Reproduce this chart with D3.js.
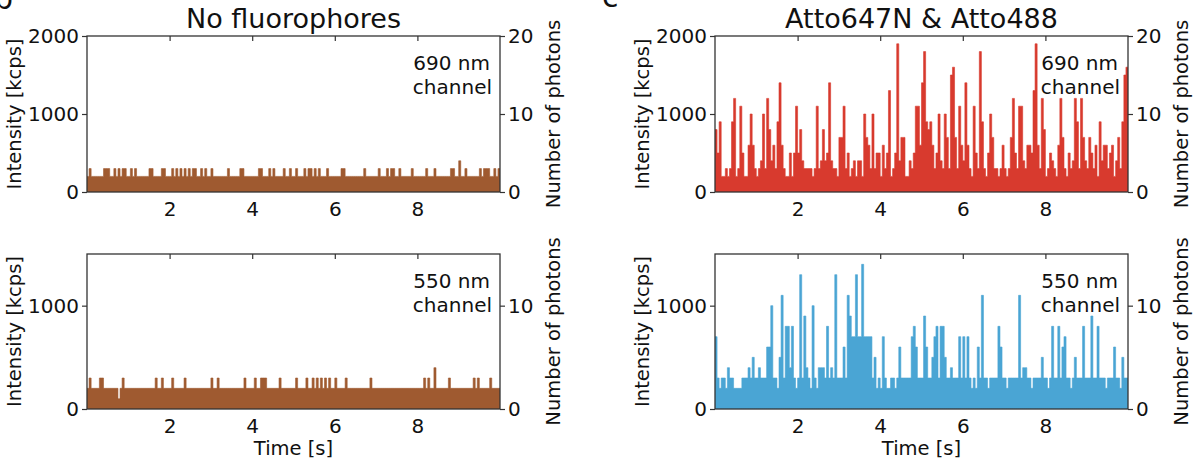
<!DOCTYPE html>
<html>
<head>
<meta charset="utf-8">
<script src="https://cdn.jsdelivr.net/npm/d3@7"></script>
<style>
  html, body { margin: 0; padding: 0; background: #fff; }
  svg { display: block; font-family: "DejaVu Sans", sans-serif; }
</style>
</head>
<body>
<svg id="chart" width="1200" height="476"></svg>
<script>
// ---------------- DATA ----------------
const binWidth = 0.05;            // s per bin
const timeMax = 10;               // s
const xTicks = [2, 4, 6, 8];
const intensityTicksTop = [0, 1000, 2000];
const intensityTicksBottom = [0, 1000];
const photonTicksTop = [0, 10, 20];
const photonTicksBottom = [0, 10];
const titles = ["No fluorophores", "Atto647N & Atto488"];
const channelLabels = [["690 nm", "channel"], ["550 nm", "channel"]];

// No fluorophores, 690 nm channel (kcps per bin)
const noFluo690 = [
  200,300,200,200,200,200,200,200,300,300, 300,200,200,300,200,300,200,300,300,200,
  200,300,200,300,200,200,200,200,200,200, 300,300,200,200,200,200,300,300,200,200,
  200,300,200,300,200,300,200,300,200,300, 200,300,300,200,200,300,200,300,200,200,
  300,200,200,200,200,200,200,200,300,200, 200,200,200,200,300,300,200,200,200,200,
  200,200,200,300,300,200,200,200,300,200, 300,200,200,200,200,300,200,200,300,200,
  200,300,200,200,200,300,200,300,300,200, 300,200,300,200,200,200,300,200,200,200,
  200,200,200,300,300,200,200,200,200,200, 200,200,200,200,300,200,200,200,200,200,
  200,300,200,200,200,300,200,300,300,200, 200,300,200,200,200,200,200,300,200,200,
  200,200,200,200,300,200,200,200,300,200, 200,200,200,200,200,200,300,300,200,200,
  400,200,200,300,200,200,200,200,200,200, 300,200,300,300,300,200,200,300,200,300
];
// No fluorophores, 550 nm channel
const noFluo550 = [
  200,300,200,200,200,200,300,300,200,200, 200,200,200,200,200,100,200,300,200,200,
  200,200,200,200,200,200,200,200,200,200, 200,200,200,300,200,200,300,200,200,200,
  200,300,200,200,200,200,200,300,200,200, 200,200,200,200,200,200,200,200,200,200,
  300,200,200,300,200,200,200,200,200,200, 200,200,200,200,200,200,300,200,200,200,
  200,300,200,200,300,300,300,200,200,200, 200,200,200,300,200,200,200,200,200,200,
  200,300,200,200,200,200,300,200,200,300, 200,300,200,300,200,300,200,300,200,200,
  300,200,200,200,200,300,200,200,200,200, 200,200,200,200,200,200,200,300,200,200,
  200,200,200,200,200,200,200,200,200,200, 200,200,200,200,200,200,200,200,200,200,
  200,200,200,300,200,300,200,200,400,200, 200,200,200,200,200,300,200,200,200,200,
  200,200,200,200,200,200,200,300,200,300, 200,200,200,200,200,300,200,200,200,200
];
// Atto647N & Atto488, 690 nm channel
const atto690 = [
  800,500,900,200,200,300,200,300,900,1200, 200,300,1100,500,200,200,600,1000,600,300,
  200,300,400,1000,300,1200,800,400,600,300, 900,1400,600,300,200,200,500,200,500,1100,
  500,800,400,300,300,300,300,200,300,1100, 300,400,800,400,500,1400,400,300,300,200,
  700,700,1100,300,500,200,300,400,200,400, 400,200,1000,700,600,300,1000,300,500,500,
  200,600,300,500,1300,200,300,500,1900,400, 700,700,200,200,400,300,500,1100,1100,600,
  1400,1800,900,800,900,600,300,500,1000,400, 300,1000,700,300,1500,1600,700,300,1100,600,
  400,1400,600,300,200,1100,500,300,1800,900, 300,200,500,1000,700,300,300,200,300,600,
  300,200,300,700,1200,500,300,1100,1100,400, 300,600,600,500,1300,1900,600,300,1200,800,
  200,300,500,400,300,200,600,1200,700,300, 200,500,300,400,1200,900,300,1200,700,400,
  300,700,500,300,600,200,900,400,600,600, 300,500,600,200,400,700,300,900,1500,1600
];
// Atto647N & Atto488, 550 nm channel
const atto550 = [
  700,300,200,300,300,200,400,300,300,200, 200,200,200,300,300,300,400,300,500,300,
  300,400,300,300,300,600,600,1000,300,300, 200,500,1100,300,800,800,400,800,300,200,
  300,1300,300,900,400,300,200,1000,300,200, 400,400,400,300,800,300,400,300,1300,300,
  300,300,600,300,1100,900,700,700,1300,700, 700,1400,700,700,700,700,300,500,200,300,
  200,700,300,200,200,300,300,200,300,600, 300,300,300,300,300,700,800,600,300,300,
  300,900,600,300,300,500,700,800,300,800, 800,500,300,300,400,300,300,300,700,300,
  700,300,700,300,200,300,200,600,300,1100, 300,300,200,300,300,300,300,800,600,300,
  300,200,300,300,300,300,300,1100,300,400, 400,300,300,200,300,300,300,300,500,300,
  300,200,300,800,300,300,800,300,600,700, 300,300,200,300,500,300,300,300,800,300,
  300,300,900,300,300,800,300,300,300,200, 300,300,300,600,300,300,200,500,300,300
];

// ---------------- LAYOUT / STYLE ----------------
const kcpsPerPhoton = 100;
const colors = { brown: "#9f5a30", red: "#d83a2e", blue: "#4aa5d4", frame: "#333333", text: "#111111" };
const cols = [{ x0: 87, x1: 500 }, { x0: 715, x1: 1128 }];
const rows = [{ y0: 36, y1: 192, max: 2000, ticks: intensityTicksTop, pticks: photonTicksTop },
              { y0: 254, y1: 409, max: 1500, ticks: intensityTicksBottom, pticks: photonTicksBottom }];
const panels = [
  { c: 0, r: 0, data: noFluo690, color: colors.brown },
  { c: 0, r: 1, data: noFluo550, color: colors.brown },
  { c: 1, r: 0, data: atto690, color: colors.red },
  { c: 1, r: 1, data: atto550, color: colors.blue }
];
const tickFont = 20, labelFont = 19.5, titleFont = 27, innerFont = 20;

const svg = d3.select("#chart");

// panel letters (cut at the top edge, as in the source figure)
svg.append("text").attr("x", -6).attr("y", 9).attr("font-size", 30).attr("fill", colors.text).text("b");
svg.append("text").attr("x", 602).attr("y", 7).attr("font-size", 30).attr("fill", colors.text).text("c");

panels.forEach(p => {
  const col = cols[p.c], row = rows[p.r];
  const x = d3.scaleLinear().domain([0, timeMax]).range([col.x0, col.x1]);
  const y = d3.scaleLinear().domain([0, row.max]).range([row.y1, row.y0]);
  const yP = d3.scaleLinear().domain([0, row.max / kcpsPerPhoton]).range([row.y1, row.y0]);

  const pts = p.data.map((v, i) => ({ t: i * binWidth, v }));
  pts.push({ t: timeMax, v: p.data[p.data.length - 1] });

  const clipId = "clip" + p.c + p.r;
  svg.append("clipPath").attr("id", clipId).append("rect")
    .attr("x", col.x0).attr("y", row.y0).attr("width", col.x1 - col.x0).attr("height", row.y1 - row.y0);

  const area = d3.area().curve(d3.curveStepAfter)
    .x(d => x(d.t)).y0(y(0)).y1(d => y(d.v));
  svg.append("path").datum(pts).attr("d", area)
    .attr("fill", p.color).attr("stroke", p.color).attr("stroke-width", 0.6)
    .attr("clip-path", `url(#${clipId})`);

  // frame
  svg.append("rect").attr("x", col.x0).attr("y", row.y0)
    .attr("width", col.x1 - col.x0).attr("height", row.y1 - row.y0)
    .attr("fill", "none").attr("stroke", colors.frame).attr("stroke-width", 1.3);

  const fmt = d3.format("d");
  const gl = svg.append("g").attr("transform", `translate(${col.x0},0)`)
    .call(d3.axisLeft(y).tickValues(row.ticks).tickFormat(fmt).tickSize(5).tickSizeOuter(0).tickPadding(3));
  const gr = svg.append("g").attr("transform", `translate(${col.x1},0)`)
    .call(d3.axisRight(yP).tickValues(row.pticks).tickFormat(fmt).tickSize(5).tickSizeOuter(0).tickPadding(3));
  const gb = svg.append("g").attr("transform", `translate(0,${row.y1})`)
    .call(d3.axisBottom(x).tickValues(xTicks).tickFormat(fmt).tickSize(0).tickSizeOuter(0).tickPadding(10));
  const gt = svg.append("g").attr("transform", `translate(0,${row.y0})`)
    .call(d3.axisBottom(x).tickValues(xTicks).tickSize(5).tickSizeOuter(0).tickFormat(""));

  [gl, gr, gb, gt].forEach(g => {
    g.select(".domain").remove();
    g.selectAll("line").attr("stroke", colors.frame).attr("stroke-width", 1.2);
    g.selectAll("text").attr("font-size", tickFont).attr("fill", colors.text)
      .attr("font-family", "DejaVu Sans");
  });

  const cy = (row.y0 + row.y1) / 2;
  svg.append("text").attr("transform", `translate(${col.x0 - 66},${cy}) rotate(-90)`)
    .attr("text-anchor", "middle").attr("font-size", labelFont).attr("fill", colors.text)
    .text("Intensity [kcps]");
  svg.append("text").attr("transform", `translate(${col.x1 + 60},${cy}) rotate(-90)`)
    .attr("text-anchor", "middle").attr("font-size", labelFont).attr("fill", colors.text)
    .text("Number of photons");

  const lines = channelLabels[p.r];
  svg.append("text").attr("x", col.x1 - 10).attr("y", row.y0 + 34)
    .attr("text-anchor", "end").attr("font-size", innerFont).attr("fill", colors.text).text(lines[0]);
  svg.append("text").attr("x", col.x1 - 8).attr("y", row.y0 + 58)
    .attr("text-anchor", "end").attr("font-size", innerFont).attr("fill", colors.text).text(lines[1]);

  if (p.r === 0) {
    svg.append("text").attr("x", (col.x0 + col.x1) / 2).attr("y", 28)
      .attr("text-anchor", "middle").attr("font-size", titleFont).attr("fill", colors.text)
      .text(titles[p.c]);
  } else {
    svg.append("text").attr("x", (col.x0 + col.x1) / 2).attr("y", 455)
      .attr("text-anchor", "middle").attr("font-size", labelFont).attr("fill", colors.text)
      .text("Time [s]");
  }
});
</script>
</body>
</html>
